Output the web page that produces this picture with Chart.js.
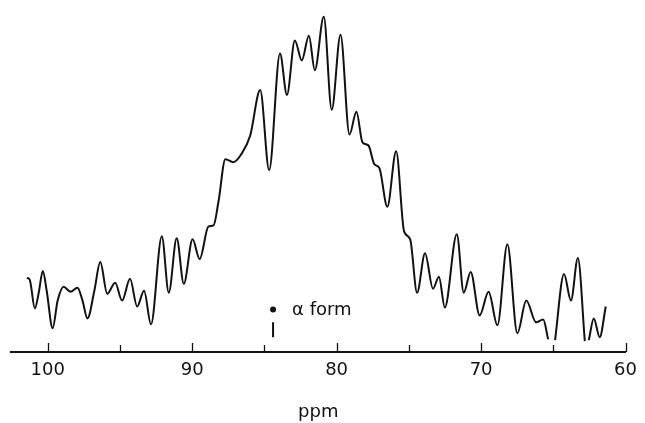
<!DOCTYPE html>
<html>
<head>
<meta charset="utf-8">
<script src="https://cdn.jsdelivr.net/npm/chart.js@4/dist/chart.umd.min.js"></script>
<style>
  html, body { margin: 0; padding: 0; background: #fff; }
  canvas { display: block; }
</style>
</head>
<body>
<canvas id="c" width="645" height="423"></canvas>
<script>
// Chemical shift (ppm) and signal intensity (arbitrary units); null = break in trace
const ppm = [101.44, 101.24, 100.89, 100.62, 100.34, 100.07, 99.66, 99.31, 98.90, 98.42,
  97.94, 97.59, 97.25, 96.77, 96.36, 95.88, 95.33, 94.85, 94.30, 93.81,
  93.33, 92.85, 92.10, 91.62, 91.07, 90.58, 89.97, 89.48, 88.87, 88.52,
  88.18, 87.70, 87.15, 86.60, 85.98, 85.29, 84.67, 83.92, 83.44, 82.89,
  82.41, 81.92, 81.51, 80.89, 80.34, 79.73, 79.11, 78.63, 78.21, 77.80,
  77.39, 77.04, 76.49, 75.88, 75.33, 74.91, 74.43, 73.88, 73.33, 72.92,
  72.51, 71.68, 71.20, 70.72, 70.10, 69.48, 68.87, 68.18, 67.49, 66.87,
  66.19, 65.70, 65.36, 65.10, 64.88, 64.26, 63.78, 63.30, 62.82, 62.70,
  62.54, 62.20, 61.79, 61.37];
const intensity = [75, 73, 44, 60, 82, 62, 24, 52, 66, 61,
  65, 52, 34, 62, 91, 59, 70, 52, 74, 46,
  62, 28, 117, 60, 115, 69, 114, 94, 127, 128,
  152, 195, 192, 200, 219, 265, 184, 302, 260, 315,
  295, 320, 285, 339, 245, 321, 220, 243, 212, 209,
  190, 186, 147, 203, 122, 114, 60, 100, 64, 76,
  45, 119, 60, 81, 37, 61, 27, 109, 19, 52,
  30, 33, 13, null, 12, 79, 52, 95, 11, null,
  12, 34, 15, 46];

const xTicksMajor = [100, 90, 80, 70, 60];
const xTicksMinor = [95, 85, 75, 65];

// alpha-form marker
const alphaPpm = 84.4;
const alphaDot = [43];
const alphaStem = [15, 30];
const alphaLabel = 'α form';

const FONT = 'DejaVu Sans';

const spectrum = ppm.map((p, i) => ({ x: p, y: intensity[i] }));

const tickMarks = {
  id: 'tickMarks',
  afterDraw(chart) {
    const ctx = chart.ctx, xs = chart.scales.x, ys = chart.scales.y;
    const base = chart.chartArea.bottom;
    ctx.save();
    ctx.strokeStyle = '#111';
    ctx.lineWidth = 1.3;
    [...xTicksMajor, ...xTicksMinor].forEach(v => {
      const px = Math.round(xs.getPixelForValue(v)) + 0.5;
      const len = xTicksMajor.includes(v) ? 9 : 7;
      ctx.beginPath();
      ctx.moveTo(px, base);
      ctx.lineTo(px, base - len);
      ctx.stroke();
    });
    // alpha label
    const ax = xs.getPixelForValue(alphaPpm);
    const ay = ys.getPixelForValue(alphaDot[0]);
    ctx.fillStyle = '#111';
    ctx.font = '18px "' + FONT + '"';
    ctx.textBaseline = 'alphabetic';
    ctx.textAlign = 'left';
    ctx.fillText(alphaLabel, ax + 19, ay + 6);
    ctx.restore();
  }
};

new Chart(document.getElementById('c'), {
  type: 'line',
  data: {
    datasets: [
      {
        data: spectrum,
        borderColor: '#111',
        borderWidth: 2,
        pointRadius: 0,
        fill: false,
        spanGaps: false,
        cubicInterpolationMode: 'monotone'
      },
      {
        data: alphaStem.map(v => ({ x: alphaPpm, y: v })),
        borderColor: '#111',
        borderWidth: 2,
        pointRadius: 0,
        fill: false
      },
      {
        data: alphaDot.map(v => ({ x: alphaPpm, y: v })),
        showLine: false,
        pointRadius: 3,
        pointBackgroundColor: '#111',
        pointBorderWidth: 0
      }
    ]
  },
  options: {
    responsive: false,
    animation: false,
    devicePixelRatio: 1,
    layout: { padding: { left: 11, right: 13, top: 0, bottom: 0 } },
    plugins: { legend: { display: false }, tooltip: { enabled: false } },
    scales: {
      x: {
        type: 'linear',
        min: 60,
        max: 102.54,
        reverse: true,
        grid: { display: false, drawTicks: false },
        border: { display: true, color: '#111', width: 2 },
        ticks: {
          stepSize: 5,
          includeBounds: false,
          autoSkip: false,
          maxRotation: 0,
          padding: 8,
          color: '#111',
          font: { family: FONT, size: 18 },
          callback: v => xTicksMajor.includes(v) ? String(v) : ''
        },
        title: {
          display: true,
          text: 'ppm',
          color: '#111',
          font: { family: FONT, size: 18 },
          padding: { top: 0, bottom: 0 }
        },
        afterFit: s => { s.height = 71; }
      },
      y: { display: false, min: 0, max: 352 }
    }
  },
  plugins: [tickMarks]
});
</script>
</body>
</html>
